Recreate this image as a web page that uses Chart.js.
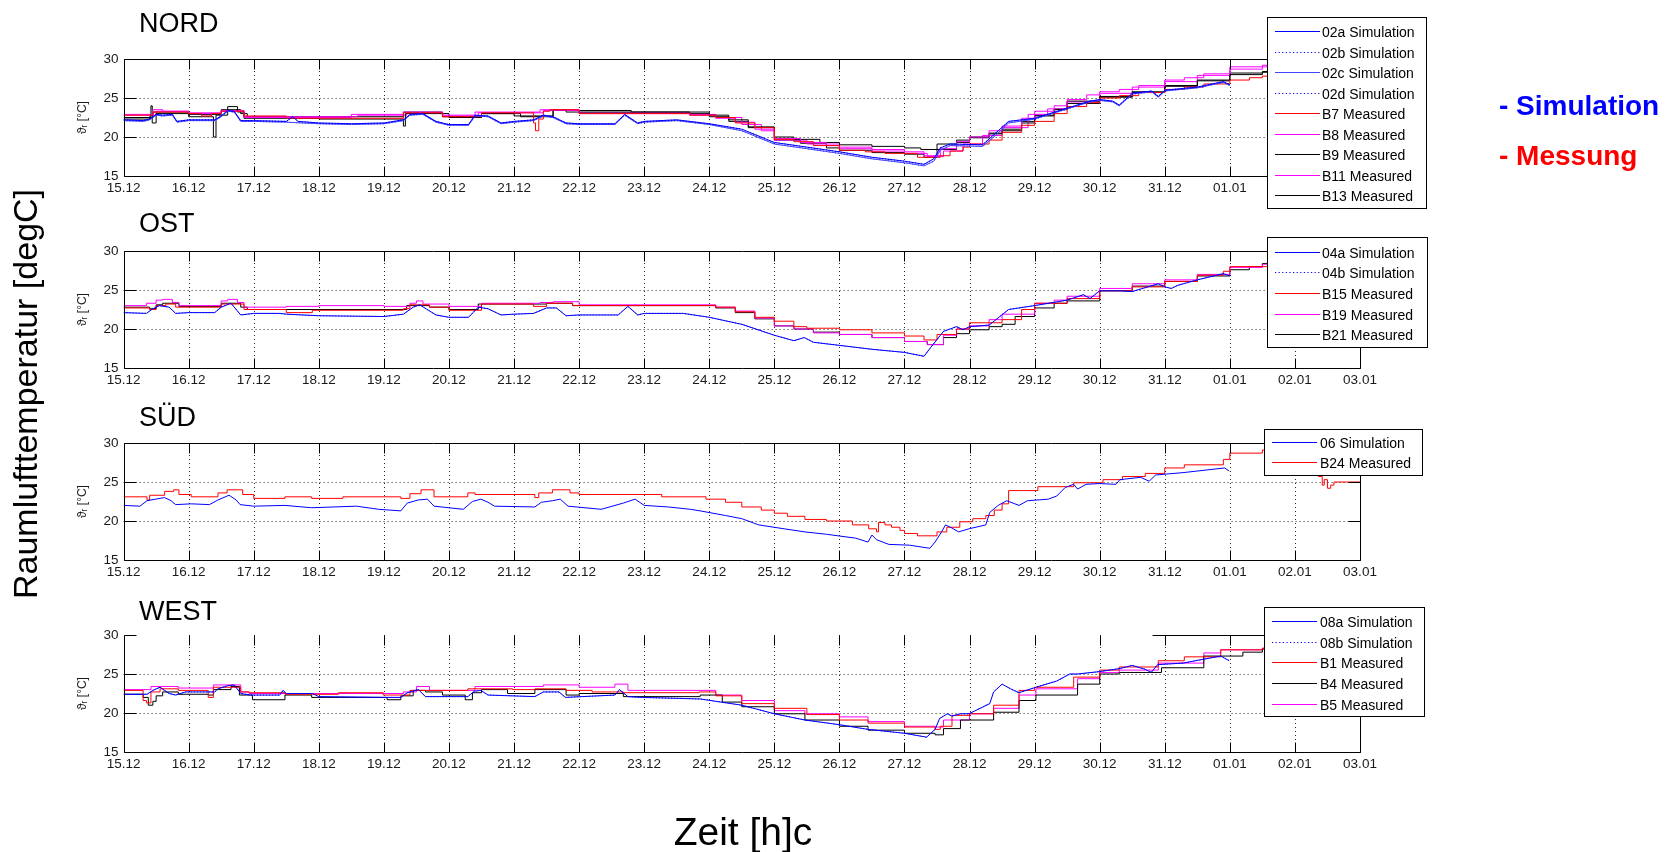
<!DOCTYPE html>
<html>
<head>
<meta charset="utf-8">
<script src="https://cdn.jsdelivr.net/npm/chart.js@4.4.1/dist/chart.umd.min.js"></script>
<style>
  html,body{margin:0;padding:0;background:#fff;}
  body{width:1670px;height:852px;position:relative;overflow:hidden;font-family:"Liberation Sans",Arial,sans-serif;}
  canvas.panel{position:absolute;left:0;z-index:1;}
  svg#overlay{position:absolute;left:0;top:0;z-index:2;}
</style>
</head>
<body>
<svg id="overlay" width="1670" height="852" xmlns="http://www.w3.org/2000/svg"></svg>
<script>
// ---------- tick labels / categories ----------
const dayLabels = ["15.12","16.12","17.12","18.12","19.12","20.12","21.12","22.12","23.12","24.12","25.12","26.12","27.12","28.12","29.12","30.12","31.12","01.01","02.01","03.01"];
const yTickValues = [15,20,25,30];
const panelTitles = ["NORD","OST","SÜD","WEST"];

// ---------- NORD data: [day since 15.12, °C] ----------
const nord02a = [[0,22.2],[0.3,22.1],[0.4,22.3],[0.5,22.9],[0.6,22.8],[0.75,22.9],[0.82,22.0],[1.0,22.2],[1.4,22.2],[1.5,22.7],[1.6,23.4],[1.7,23.3],[1.8,22.1],[2.0,22.1],[2.5,22.0],[2.6,22.6],[2.68,22.0],[3.0,21.8],[3.5,21.7],[4.0,21.8],[4.3,22.2],[4.4,22.9],[4.6,23.0],[4.8,22.0],[5.0,21.6],[5.3,21.6],[5.4,22.8],[5.6,22.7],[5.8,21.8],[6.0,22.0],[6.3,22.2],[6.45,22.8],[6.6,22.6],[6.8,21.8],[7.0,21.7],[7.55,21.7],[7.7,22.9],[7.9,21.8],[8.0,22.0],[8.5,22.2],[9.0,21.7],[9.5,21.0],[10.0,19.3],[10.5,18.7],[11.0,18.1],[11.5,17.4],[12.0,16.9],[12.3,16.5],[12.45,17.2],[12.55,18.6],[12.7,19.1],[13.2,19.0],[13.4,20.5],[13.6,22.0],[14.0,22.4],[14.5,23.7],[14.85,24.6],[15.0,24.8],[15.2,24.6],[15.3,24.1],[15.5,25.6],[15.8,25.9],[15.9,25.2],[16.0,26.0],[16.5,26.4],[16.9,27.1],[17.0,26.7]];
const nord02c = [[0,22.1],[0.3,22.0],[0.4,22.2],[0.5,22.8],[0.6,22.7],[0.75,22.8],[0.82,21.9],[1.0,22.1],[1.4,22.1],[1.5,22.6],[1.6,23.3],[1.7,23.2],[1.8,22.0],[2.0,22.0],[2.5,21.9],[3.0,21.7],[3.5,21.6],[4.0,21.7],[4.3,22.1],[4.4,22.8],[4.6,22.9],[4.8,21.9],[5.0,21.5],[5.3,21.5],[5.4,22.7],[5.6,22.6],[5.8,21.7],[6.0,21.9],[6.3,22.1],[6.45,22.7],[6.6,22.5],[6.8,21.7],[7.0,21.6],[7.55,21.6],[7.7,22.8],[7.9,21.7],[8.0,21.9],[8.5,22.1],[9.0,21.6],[9.5,20.8],[10.0,19.1],[10.5,18.5],[11.0,17.9],[11.5,17.2],[12.0,16.7],[12.3,16.3],[12.45,16.9],[12.55,18.3],[12.7,18.9],[13.2,18.8],[13.4,20.2],[13.6,21.8],[14.0,22.3],[14.5,23.6],[14.85,24.5],[15.0,24.7],[15.2,24.5],[15.3,24.0],[15.5,25.5],[15.8,25.8],[15.9,25.1],[16.0,25.9],[16.5,26.3],[16.9,27.0],[17.0,26.6]];
const nordB7 = [[0,22.8],[0.45,23.2],[1.0,23.0],[1.2,22.7],[1.35,23.0],[1.5,23.3],[1.85,22.7],[2.5,22.4],[4.3,23.1],[4.9,22.6],[5.5,23.1],[6.3,21.8],[6.33,20.8],[6.38,22.3],[6.45,23.3],[6.55,23.5],[7.0,23.0],[8.7,22.8],[9.1,22.5],[9.4,21.8],[9.7,21.2],[10.0,19.7],[10.3,19.4],[10.6,18.9],[11.0,18.3],[11.4,18.1],[11.7,17.9],[12.2,17.4],[12.55,17.6],[12.7,18.2],[12.9,18.7],[13.0,19.1],[13.3,19.6],[13.5,20.6],[13.8,21.5],[14.0,22.0],[14.3,23.0],[14.5,23.9],[14.8,24.4],[15.0,25.0],[15.3,25.3],[15.6,25.7],[16.0,26.1],[16.3,26.4],[16.6,26.8],[17.0,27.3],[17.3,27.6],[17.5,27.8],[18.0,27.8]];
const nordB8 = [[0,22.9],[0.45,23.5],[0.6,23.3],[1.0,23.0],[1.5,23.3],[1.85,22.5],[3.5,22.9],[4.3,23.2],[4.9,22.8],[5.4,23.2],[6.4,23.5],[7.0,23.0],[8.7,22.8],[9.1,22.4],[9.4,21.9],[9.7,21.0],[10.0,19.8],[10.4,19.3],[10.8,18.9],[11.0,18.7],[11.5,18.4],[12.0,18.1],[12.3,17.6],[12.55,18.5],[12.8,19.4],[13.0,20.0],[13.3,20.8],[13.5,21.4],[13.8,22.4],[14.0,23.3],[14.3,24.0],[14.5,24.8],[14.8,25.4],[15.0,25.8],[15.3,26.1],[15.6,26.6],[16.0,27.3],[16.3,27.6],[16.6,28.1],[17.0,29.0],[17.5,29.2],[18.0,29.2]];
const nordB9 = [[0,22.3],[0.4,22.6],[0.42,24.0],[0.44,21.8],[0.5,23.0],[1.0,22.6],[1.38,20.0],[1.42,22.8],[1.6,23.9],[1.75,23.2],[1.85,22.4],[3.0,22.3],[4.3,21.4],[4.33,23.0],[5.0,22.5],[5.5,23.0],[6.0,22.7],[6.6,23.5],[6.8,23.2],[8.7,23.2],[9.0,22.8],[9.3,22.2],[9.6,21.3],[10.0,20.0],[10.3,19.7],[10.7,19.3],[11.0,19.0],[11.5,18.8],[12.0,18.6],[12.25,18.4],[12.5,19.1],[12.8,19.6],[13.0,20.0],[13.3,20.4],[13.5,20.8],[13.8,21.8],[14.0,22.7],[14.3,23.5],[14.5,24.6],[15.0,25.2],[15.5,25.8],[16.0,26.5],[16.5,27.2],[17.0,28.2],[17.5,28.4],[18.0,28.4]];
const nordB11 = [[0,22.8],[0.5,23.3],[1.0,23.1],[1.5,23.4],[1.85,22.6],[3.6,22.8],[4.35,23.1],[4.9,22.7],[5.45,23.1],[6.45,23.4],[7.0,23.1],[8.7,22.9],[9.1,22.5],[9.5,21.6],[9.8,20.8],[10.0,19.6],[10.5,19.1],[11.0,18.5],[11.5,18.2],[12.0,17.9],[12.35,17.5],[12.6,18.2],[12.9,19.1],[13.2,20.2],[13.5,21.2],[13.9,22.9],[14.2,23.6],[14.5,24.5],[15.0,25.6],[15.5,26.4],[16.0,27.1],[16.5,27.9],[17.0,28.7],[17.5,29.0],[18.0,29.0]];
const nordB13 = [[0,22.5],[0.45,23.2],[1.0,22.9],[1.5,23.5],[1.8,23.0],[1.9,22.6],[4.3,23.2],[4.9,22.6],[5.5,23.0],[6.1,22.6],[6.6,23.4],[7.0,23.4],[7.8,23.2],[8.7,23.0],[9.0,22.6],[9.3,22.0],[9.6,21.2],[10.0,19.6],[10.4,19.2],[10.8,18.6],[11.0,18.3],[11.5,18.0],[12.0,17.8],[12.3,17.4],[12.5,18.4],[12.8,19.3],[13.0,19.9],[13.3,20.5],[13.5,21.0],[13.8,22.0],[14.0,22.8],[14.3,23.6],[14.5,24.3],[15.0,25.1],[15.5,25.7],[16.0,26.6],[16.5,27.3],[17.0,28.0],[17.5,28.3],[18.0,28.3]];

// ---------- OST data ----------
const ost04a = [[0,22.1],[0.35,22.0],[0.45,22.6],[0.55,23.0],[0.7,22.8],[0.8,22.0],[1.0,22.1],[1.4,22.1],[1.5,22.8],[1.65,23.3],[1.8,21.8],[2.0,22.0],[2.4,22.0],[2.5,21.9],[3.0,21.7],[4.0,21.6],[4.3,21.9],[4.45,22.8],[4.55,23.1],[4.8,21.8],[5.0,21.5],[5.3,21.5],[5.45,22.8],[5.6,22.6],[5.8,21.8],[6.0,21.9],[6.3,22.0],[6.5,22.7],[6.65,22.7],[6.8,21.7],[7.0,21.8],[7.6,21.8],[7.75,22.9],[7.9,21.8],[8.0,22.0],[8.6,22.0],[9.0,21.5],[9.5,20.6],[10.0,19.2],[10.3,18.5],[10.46,18.9],[10.6,18.3],[11.0,17.9],[11.5,17.4],[12.0,17.0],[12.3,16.5],[12.4,17.6],[12.6,19.7],[12.8,20.3],[12.9,19.9],[13.0,20.3],[13.3,20.5],[13.6,22.5],[14.0,23.0],[14.5,23.7],[14.75,24.4],[14.85,23.9],[15.0,24.9],[15.3,24.9],[15.5,24.8],[15.9,25.8],[16.0,25.4],[16.1,25.2],[16.2,25.6],[16.5,26.3],[16.9,27.1],[17.0,26.8]];
const ostB15 = [[0,22.7],[0.4,22.5],[0.5,23.0],[0.65,23.2],[0.8,22.8],[1.5,23.2],[1.85,22.5],[2.5,22.1],[2.9,22.4],[4.3,22.6],[4.4,23.1],[4.7,22.8],[5.0,22.4],[5.5,23.2],[6.3,22.9],[6.5,23.3],[6.9,23.0],[9.1,22.8],[9.4,22.2],[9.7,21.5],[10.0,21.0],[10.3,20.3],[10.5,20.1],[11.0,19.9],[11.5,19.5],[12.0,19.1],[12.3,18.6],[12.5,19.3],[12.8,20.0],[13.0,20.8],[13.5,21.2],[13.8,22.5],[14.0,23.3],[14.5,23.9],[15.0,24.9],[15.5,25.4],[16.0,26.1],[16.5,26.9],[16.9,27.4],[17.0,28.0],[18.0,28.0]];
const ostB19 = [[0,23.0],[0.35,23.3],[0.5,23.7],[0.6,23.8],[0.75,23.4],[0.85,23.0],[1.5,23.6],[1.6,23.8],[1.75,23.4],[1.85,22.8],[2.5,22.9],[3.0,23.0],[4.0,22.9],[4.4,23.3],[4.5,23.6],[4.6,23.2],[5.0,22.9],[5.5,23.3],[6.4,23.4],[6.6,23.5],[7.0,23.1],[9.1,22.8],[9.4,22.3],[9.7,21.4],[10.0,20.4],[10.3,20.0],[10.6,19.5],[11.0,19.3],[11.5,18.9],[12.0,18.4],[12.35,18.0],[12.6,19.2],[12.8,20.0],[13.0,20.4],[13.3,21.2],[13.5,21.9],[14.0,23.3],[14.3,23.7],[14.5,24.2],[15.0,25.2],[15.5,25.8],[16.0,26.3],[16.5,27.0],[17.0,27.9],[17.5,28.3],[18.0,28.3]];
const ostB21 = [[0,22.8],[0.4,22.6],[0.5,23.1],[0.6,23.3],[0.85,22.9],[1.5,23.3],[1.8,22.8],[1.9,22.5],[4.35,23.0],[4.7,22.8],[5.0,22.5],[5.45,23.2],[6.5,23.3],[6.9,23.0],[9.1,22.7],[9.4,22.1],[9.7,21.3],[10.0,20.4],[10.3,20.0],[10.6,19.6],[11.0,19.3],[11.5,18.9],[12.0,18.4],[12.35,18.0],[12.6,18.9],[12.8,19.4],[13.0,19.9],[13.3,20.3],[13.5,20.6],[13.7,21.6],[14.0,22.7],[14.3,23.3],[14.5,23.6],[15.0,24.9],[15.5,25.5],[16.0,26.1],[16.5,26.8],[17.0,27.6],[17.3,28.0],[17.5,28.4],[18.0,28.4]];

// ---------- SÜD data ----------
const sud06 = [[0,22.0],[0.25,21.9],[0.36,22.6],[0.49,22.8],[0.63,23.0],[0.73,22.6],[0.8,22.1],[1.04,22.2],[1.32,22.1],[1.45,22.7],[1.62,23.3],[1.73,22.7],[1.79,22.1],[2.0,21.9],[2.48,22.0],[2.89,21.7],[3.58,21.9],[3.92,21.5],[4.26,21.3],[4.36,22.3],[4.53,22.7],[4.67,22.8],[4.77,21.9],[5.22,21.5],[5.36,22.5],[5.49,22.8],[5.6,22.4],[5.7,21.9],[6.32,21.8],[6.42,22.4],[6.59,22.6],[6.71,22.8],[6.83,21.9],[7.34,21.5],[7.68,22.3],[7.86,22.8],[8.0,22.0],[8.37,21.8],[8.71,21.5],[8.86,21.3],[9.25,20.7],[9.5,20.3],[9.76,19.5],[10.15,19.0],[10.47,18.6],[10.8,18.3],[11.25,17.8],[11.44,17.3],[11.5,18.2],[11.57,17.6],[11.76,17.0],[12.08,16.9],[12.39,16.5],[12.47,17.3],[12.57,18.6],[12.63,19.5],[12.73,19.1],[12.83,18.6],[12.99,19.0],[13.25,19.5],[13.31,21.1],[13.44,22.0],[13.57,22.6],[13.76,22.0],[13.89,22.6],[14.21,22.8],[14.34,23.2],[14.47,24.3],[14.6,24.7],[14.66,24.1],[14.79,24.7],[14.99,24.8],[15.25,24.7],[15.31,25.3],[15.63,25.6],[15.76,25.1],[15.86,25.9],[16.28,26.2],[16.92,26.8],[16.99,26.4]];
const sudB24 = [[0,23.1],[0.36,22.7],[0.4,23.3],[0.63,23.8],[0.77,24.0],[0.85,23.4],[1.04,23.1],[1.45,23.6],[1.59,24.0],[1.83,23.4],[2.0,22.9],[2.48,23.1],[2.89,22.9],[3.37,23.1],[4.26,22.9],[4.4,23.5],[4.57,24.0],[4.77,23.1],[5.29,23.6],[5.4,23.4],[6.32,23.0],[6.38,23.6],[6.59,24.0],[6.86,23.6],[7.0,23.4],[8.27,23.1],[8.95,22.8],[9.25,22.4],[9.5,21.8],[9.8,21.4],[10.0,21.0],[10.2,20.6],[10.47,20.2],[10.8,20.0],[11.2,19.5],[11.45,19.0],[11.57,18.6],[11.6,19.8],[11.7,19.5],[11.8,19.2],[11.93,18.8],[12.0,18.4],[12.2,18.1],[12.5,18.6],[12.65,19.2],[12.85,19.9],[13.05,20.3],[13.25,20.7],[13.38,21.4],[13.5,22.2],[13.6,23.9],[14.05,24.4],[14.6,24.9],[15.05,25.3],[15.35,25.7],[15.7,26.1],[16.0,26.8],[16.3,27.2],[16.9,27.9],[17.0,28.7],[17.5,29.1],[18.36,25.7],[18.42,24.6],[18.45,25.3],[18.5,24.2],[18.55,24.6],[18.6,25.0],[19.0,25.0]];

// ---------- WEST data ----------
const west08a = [[0,22.4],[0.36,22.4],[0.45,22.9],[0.56,23.3],[0.7,22.5],[0.8,22.3],[0.95,22.7],[1.4,22.7],[1.45,23.1],[1.6,23.5],[1.7,23.6],[1.8,22.5],[1.95,22.3],[2.4,22.3],[2.45,22.9],[2.5,22.5],[2.9,22.5],[3.0,22.1],[3.99,22.0],[4.26,22.0],[4.36,22.6],[4.53,23.0],[4.64,22.1],[5.29,22.1],[5.39,22.8],[5.49,22.9],[5.6,22.3],[6.32,22.1],[6.45,22.7],[6.69,22.7],[6.79,22.0],[7.55,22.3],[7.62,23.0],[7.75,22.1],[7.96,22.0],[8.86,21.8],[9.5,21.0],[10.0,19.9],[10.47,19.1],[11.0,18.5],[11.44,17.9],[12.0,17.4],[12.34,16.9],[12.47,17.9],[12.54,19.3],[12.66,19.9],[12.73,19.6],[12.86,19.9],[12.99,19.9],[13.31,21.2],[13.37,22.7],[13.5,23.7],[13.63,23.1],[13.76,22.6],[14.02,23.3],[14.34,24.1],[14.54,25.0],[14.66,25.0],[14.99,25.3],[15.31,25.7],[15.5,26.1],[15.7,25.6],[15.79,25.2],[15.89,26.2],[16.28,26.4],[16.6,26.9],[16.86,27.3],[16.99,26.7]];
const westB1 = [[0,22.9],[0.3,21.6],[0.35,21.3],[0.42,22.7],[0.56,23.1],[0.84,22.9],[1.3,22.0],[1.38,23.3],[1.8,22.7],[1.93,22.6],[2.48,22.4],[3.3,22.6],[3.99,22.3],[4.4,22.9],[5.29,23.1],[5.98,23.0],[6.32,23.1],[6.8,22.9],[7.2,22.7],[7.68,22.6],[8.84,22.7],[9.1,22.2],[9.5,21.2],[10.0,20.6],[10.5,19.8],[11.0,19.1],[11.44,18.7],[12.0,18.2],[12.47,17.9],[12.55,18.3],[12.73,19.7],[13.0,19.9],[13.37,21.0],[13.76,22.9],[14.0,23.3],[14.6,24.6],[15.0,25.5],[15.3,25.9],[15.9,26.7],[16.3,27.2],[16.86,28.1],[17.5,28.3],[18.0,28.3]];
const westB4 = [[0,22.4],[0.3,22.0],[0.38,21.0],[0.45,21.5],[0.5,22.2],[0.6,22.7],[0.84,22.4],[1.3,22.3],[1.38,23.0],[1.65,23.4],[1.78,22.3],[1.98,21.7],[2.48,22.3],[2.89,22.0],[4.05,21.7],[4.26,22.2],[4.45,22.9],[4.64,22.7],[4.9,22.3],[5.25,21.7],[5.36,22.6],[5.5,23.0],[5.9,22.5],[6.32,23.0],[6.8,22.3],[7.0,22.5],[7.68,22.1],[8.86,22.3],[9.2,21.4],[9.5,20.8],[10.0,19.9],[10.47,19.1],[11.0,18.3],[11.44,17.8],[12.0,17.4],[12.47,17.2],[12.6,18.0],[12.86,19.1],[13.37,20.1],[13.76,21.6],[14.02,22.3],[14.66,23.7],[15.0,25.0],[15.3,25.2],[15.95,25.8],[16.6,27.3],[17.2,27.8],[17.5,28.2],[18.0,28.2]];
const westB5 = [[0,23.0],[0.42,23.4],[0.84,23.2],[1.38,23.6],[1.8,22.7],[1.93,22.5],[4.3,22.7],[4.5,23.4],[4.7,22.9],[5.4,23.4],[6.45,23.6],[7.0,23.3],[7.55,23.7],[7.75,22.9],[8.84,22.9],[9.1,22.3],[9.5,21.6],[10.0,20.3],[10.47,19.9],[11.0,19.5],[11.44,18.9],[12.0,18.3],[12.47,18.2],[12.6,19.1],[13.0,19.9],[13.37,20.6],[13.76,22.3],[14.02,23.1],[14.66,24.4],[15.0,25.2],[15.3,25.5],[15.9,26.4],[16.6,27.7],[16.86,28.1],[17.5,28.3],[18.0,28.3]];

// ---------- series definitions ----------
const BLUE="#0000ff", BLUE2="#4646ff", RED="#ff0000", MAG="#ff00ff", BLK="#000000";
const panels = [
  { title:panelTitles[0], top:59, titleBase:32, topFrom:null,
    legend:{x:1267,y:17,w:159,h:191,first:14,step:20.55,textX:55},
    series:[
      {label:"02a Simulation", data:nord02a, color:BLUE,  dotted:false, step:false},
      {label:"02b Simulation", data:nord02a, color:BLUE,  dotted:true,  step:false},
      {label:"02c Simulation", data:nord02c, color:BLUE2, dotted:false, step:false},
      {label:"02d Simulation", data:nord02c, color:BLUE,  dotted:true,  step:false},
      {label:"B7 Measured",  data:nordB7,  color:RED, dotted:false, step:true},
      {label:"B8 Measured",  data:nordB8,  color:MAG, dotted:false, step:true},
      {label:"B9 Measured",  data:nordB9,  color:BLK, dotted:false, step:true},
      {label:"B11 Measured", data:nordB11, color:MAG, dotted:false, step:true},
      {label:"B13 Measured", data:nordB13, color:BLK, dotted:false, step:true}
    ]},
  { title:panelTitles[1], top:251, titleBase:232, topFrom:null,
    legend:{x:1267,y:237,w:160,h:110,first:14.7,step:20.65,textX:55},
    series:[
      {label:"04a Simulation", data:ost04a, color:BLUE, dotted:false, step:false},
      {label:"04b Simulation", data:ost04a, color:BLUE, dotted:true,  step:false},
      {label:"B15 Measured", data:ostB15, color:RED, dotted:false, step:true},
      {label:"B19 Measured", data:ostB19, color:MAG, dotted:false, step:true},
      {label:"B21 Measured", data:ostB21, color:BLK, dotted:false, step:true}
    ]},
  { title:panelTitles[2], top:443, titleBase:426, topFrom:null,
    legend:{x:1264,y:429,w:158,h:46,first:13.3,step:20,textX:56},
    series:[
      {label:"06 Simulation", data:sud06, color:BLUE, dotted:false, step:false},
      {label:"B24 Measured", data:sudB24, color:RED, dotted:false, step:true}
    ]},
  { title:panelTitles[3], top:635, titleBase:620, topFrom:15.8,
    legend:{x:1264,y:607,w:160,h:109,first:14,step:20.65,textX:56},
    series:[
      {label:"08a Simulation", data:west08a, color:BLUE, dotted:false, step:false},
      {label:"08b Simulation", data:west08a, color:BLUE, dotted:true,  step:false},
      {label:"B1 Measured", data:westB1, color:RED, dotted:false, step:true},
      {label:"B4 Measured", data:westB4, color:BLK, dotted:false, step:true},
      {label:"B5 Measured", data:westB5, color:MAG, dotted:false, step:true}
    ]}
];

const PANEL_H = 117, PAD_TOP = 20, XAX_H = 35, PLOT_LEFT = 123.6, PLOT_RIGHT = 1360;
const FONT = '"Liberation Sans", Arial, sans-serif';

// MATLAB-like frame: dotted grid, box, inward ticks
const framePlugin = {
  id:'matlabFrame',
  beforeDatasetsDraw(chart, args, opts){
    const {ctx, chartArea:a, scales:{x,y}} = chart;
    ctx.save();
    ctx.strokeStyle = 'rgba(0,0,0,0.85)';
    ctx.lineWidth = 1;
    ctx.setLineDash([1,3]);
    ctx.beginPath();
    x.ticks.forEach(t=>{
      const px = Math.round(x.getPixelForValue(t.value))+0.5;
      if (px > a.left+2 && px < a.right-2){ ctx.moveTo(px,a.top); ctx.lineTo(px,a.bottom); }
    });
    y.ticks.forEach(t=>{
      const py = Math.round(y.getPixelForValue(t.value))+0.5;
      if (py > a.top+2 && py < a.bottom-2){ ctx.moveTo(a.left,py); ctx.lineTo(a.right,py); }
    });
    ctx.stroke();
    ctx.restore();
  },
  afterDatasetsDraw(chart, args, opts){
    const {ctx, chartArea:a, scales:{x,y}} = chart;
    const L = Math.round(a.left)+0.5, R = Math.round(a.right)+0.5, T = Math.round(a.top)+0.5, B = Math.round(a.bottom)+0.5;
    ctx.save();
    ctx.strokeStyle = '#000';
    ctx.lineWidth = 1;
    ctx.setLineDash([]);
    ctx.beginPath();
    ctx.moveTo(L,T); ctx.lineTo(L,B); ctx.lineTo(R,B); ctx.lineTo(R,T);
    const tf = (opts.topFrom==null) ? L : Math.round(x.getPixelForValue(opts.topFrom))+0.5;
    ctx.moveTo(tf,T); ctx.lineTo(R,T);
    x.ticks.forEach(t=>{
      const px = Math.round(x.getPixelForValue(t.value))+0.5;
      ctx.moveTo(px,B); ctx.lineTo(px,B-10);
      ctx.moveTo(px,T); ctx.lineTo(px,T+10);
    });
    y.ticks.forEach(t=>{
      const py = Math.round(y.getPixelForValue(t.value))+0.5;
      ctx.moveTo(L,py); ctx.lineTo(L+12,py);
      ctx.moveTo(R,py); ctx.lineTo(R-12,py);
    });
    ctx.stroke();
    ctx.restore();
  }
};

panels.forEach((p)=>{
  const cv = document.createElement('canvas');
  cv.className = 'panel';
  const h = PAD_TOP + PANEL_H + XAX_H;
  cv.width = 1670; cv.height = h;
  cv.style.width = '1670px'; cv.style.height = h+'px';
  cv.style.top = (p.top - PAD_TOP) + 'px';
  document.body.appendChild(cv);
  new Chart(cv.getContext('2d'), {
    type:'line',
    data:{
      datasets: p.series.map(s=>({
        label:s.label,
        data:s.data.map(d=>({x:d[0], y:d[1]})),
        borderColor:s.color,
        borderWidth:1,
        borderDash: s.dotted ? [1,2] : [],
        stepped: s.step ? true : false,
        pointRadius:0,
        tension:0,
        fill:false
      }))
    },
    options:{
      responsive:false, animation:false, events:[],
      devicePixelRatio:1,
      layout:{padding:{left:70, right:1670-PLOT_RIGHT, top:PAD_TOP, bottom:0}},
      plugins:{legend:{display:false}, tooltip:{enabled:false}, title:{display:false},
               matlabFrame:{topFrom:p.topFrom}},
      scales:{
        x:{type:'linear', min:0, max:dayLabels.length-1,
           afterBuildTicks(s){ s.ticks = dayLabels.map((_,i)=>({value:i})); },
           afterFit(s){ s.height = XAX_H; },
           grid:{display:false, drawTicks:false}, border:{display:false},
           ticks:{autoSkip:false, maxRotation:0, minRotation:0, padding:4, color:'#1a1a1a',
                  font:{family:FONT, size:13.5},
                  callback:(v,i)=>dayLabels[i]}},
        y:{type:'linear', min:15, max:30,
           afterBuildTicks(s){ s.ticks = yTickValues.map(v=>({value:v})); },
           afterFit(s){ s.width = PLOT_LEFT - 70; },
           grid:{display:false, drawTicks:false}, border:{display:false},
           ticks:{padding:5, color:'#1a1a1a', font:{family:FONT, size:13.5}},
           title:{display:true, text:'ϑᵣ [°C]', color:'#1a1a1a', font:{family:FONT, size:12}, padding:{top:5,bottom:0}}}
      }
    },
    plugins:[framePlugin]
  });
});

// ---------- SVG texts and legends ----------
const svg = document.getElementById('overlay');
const NS = 'http://www.w3.org/2000/svg';
function el(tag, attrs, text){
  const e = document.createElementNS(NS, tag);
  for (const k in attrs) e.setAttribute(k, attrs[k]);
  if (text != null) e.textContent = text;
  svg.appendChild(e);
  return e;
}
panels.forEach(p=>{
  el('text', {x:139, y:p.titleBase, 'font-family':FONT, 'font-size':27, fill:'#000'}, p.title);
  const g = p.legend;
  el('rect', {x:g.x+0.5, y:g.y+0.5, width:g.w, height:g.h, fill:'#fff', stroke:'#000', 'stroke-width':1});
  p.series.forEach((s,i)=>{
    const cy = Math.round(g.y + g.first + i*g.step) + 0.5;
    const ln = {x1:g.x+8, x2:g.x+53, y1:cy, y2:cy, stroke:s.color, 'stroke-width':1.2};
    if (s.dotted) ln['stroke-dasharray'] = '1.2,2.4';
    el('line', ln);
    el('text', {x:g.x+g.textX, y:cy+5, 'font-family':FONT, 'font-size':14, fill:'#000'}, s.label);
  });
});
el('text', {transform:'translate(37,394) rotate(-90)', 'text-anchor':'middle', 'font-family':FONT, 'font-size':34, fill:'#000'}, 'Raumlufttemperatur [degC]');
el('text', {x:743, y:845, 'text-anchor':'middle', 'font-family':FONT, 'font-size':39, fill:'#000'}, 'Zeit [h]c');
el('text', {x:1499, y:115, 'font-family':FONT, 'font-size':28, 'font-weight':'bold', fill:'#0000ff'}, '- Simulation');
el('text', {x:1499, y:165, 'font-family':FONT, 'font-size':28, 'font-weight':'bold', fill:'#ff0000'}, '- Messung');
</script>
</body>
</html>
